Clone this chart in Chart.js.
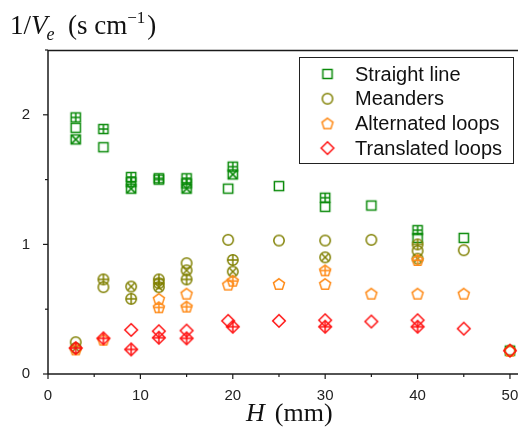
<!DOCTYPE html>
<html><head><meta charset="utf-8">
<script src="https://cdn.jsdelivr.net/npm/chart.js@4"></script>
<style>html,body{margin:0;padding:0;background:#fff}canvas{display:block}</style>
</head><body>
<canvas id="c" width="518" height="429" style="width:518px;height:429px"></canvas>
<script>
// ---- data (H in mm, 1/Ve in s/cm) ----
const seriesNames = ['Straight line','Meanders','Alternated loops','Translated loops'];
const xTickValues = [0,5,10,15,20,25,30,35,40,45,50];
const yTickValues = [0,0.5,1,1.5,2,2.5];

const straightPlainH = [3,6,19.5,25,30,35,40,45,50];
const straightPlainV = [1.90,1.75,1.43,1.45,1.29,1.30,1.05,1.05,0.18];
const straightPlusH  = [3,6,9,9,12,12,15,15,20,30,40];
const straightPlusV  = [1.98,1.89,1.52,1.48,1.51,1.50,1.51,1.47,1.60,1.36,1.11];
const straightXH     = [3,9,15,20];
const straightXV     = [1.81,1.43,1.43,1.54];

const meandersPlainH = [3,6,15,19.5,25,30,35,40,45,50];
const meandersPlainV = [0.245,0.67,0.855,1.035,1.03,1.03,1.035,0.95,0.955,0.18];
const meandersPlusH  = [6,9,12,12,15,20,40];
const meandersPlusV  = [0.73,0.58,0.73,0.70,0.73,0.88,1.0];
const meandersXH     = [3,9,12,15,20,30,40];
const meandersXV     = [0.20,0.675,0.67,0.80,0.79,0.90,0.89];

const alternatedPlainH = [3,6,12,15,19.5,25,30,35,40,45,50];
const alternatedPlainV = [0.19,0.265,0.58,0.62,0.69,0.695,0.695,0.62,0.62,0.62,0.18];
const alternatedPlusH  = [12,15,20,30,40];
const alternatedPlusV  = [0.515,0.52,0.72,0.80,0.88];

const translatedPlainH = [9,12,15,19.5,25,30,35,40,45,50];
const translatedPlainV = [0.34,0.33,0.335,0.41,0.41,0.415,0.405,0.415,0.35,0.18];
const translatedPlusH  = [3,6,9,12,15,20,30,40];
const translatedPlusV  = [0.20,0.275,0.19,0.28,0.275,0.365,0.365,0.365];

const colors = {green:'#0a8a0a', olive:'#808000', orange:'#ff8c1a', red:'#ff1010'};

// ---- marker images ----
function marker(shape, mark, color){
  const s = 18, m = s/2;
  const c = document.createElement('canvas'); c.width = s; c.height = s;
  const g = c.getContext('2d');
  g.strokeStyle = color; g.lineWidth = 1.5; g.lineJoin = 'miter';
  g.beginPath();
  if (shape === 'square') {
    const r = 4.6; g.rect(m-r, m-r, 2*r, 2*r); g.stroke();
    g.beginPath();
    if (mark === 'plus') { g.moveTo(m, m-r); g.lineTo(m, m+r); g.moveTo(m-r, m); g.lineTo(m+r, m); }
    if (mark === 'x') { g.moveTo(m-r, m-r); g.lineTo(m+r, m+r); g.moveTo(m+r, m-r); g.lineTo(m-r, m+r); }
    g.stroke();
  } else if (shape === 'circle') {
    const r = 5.2; g.arc(m, m, r, 0, Math.PI*2); g.stroke();
    g.beginPath();
    if (mark === 'plus') { g.moveTo(m, m-r); g.lineTo(m, m+r); g.moveTo(m-r, m); g.lineTo(m+r, m); }
    if (mark === 'x') { const d = r*0.707; g.moveTo(m-d, m-d); g.lineTo(m+d, m+d); g.moveTo(m+d, m-d); g.lineTo(m-d, m+d); }
    g.stroke();
  } else if (shape === 'diamond') {
    const r = 6.3; g.moveTo(m, m-r); g.lineTo(m+r, m); g.lineTo(m, m+r); g.lineTo(m-r, m); g.closePath(); g.stroke();
    g.beginPath();
    if (mark === 'plus') { g.moveTo(m, m-r); g.lineTo(m, m+r); g.moveTo(m-r, m); g.lineTo(m+r, m); }
    g.stroke();
  } else if (shape === 'pentagon') {
    const r = 5.8;
    for (let i = 0; i < 5; i++) {
      const a = -Math.PI/2 + i*2*Math.PI/5;
      const x = m + r*Math.cos(a), y = m + 0.6 + r*Math.sin(a);
      if (i === 0) g.moveTo(x, y); else g.lineTo(x, y);
    }
    g.closePath(); g.stroke();
    g.beginPath();
    if (mark === 'plus') {
      const yb = m + 0.6 + r*Math.sin(-Math.PI/2 + 2*2*Math.PI/5);
      g.moveTo(m, m + 0.6 - r); g.lineTo(m, yb);
      g.moveTo(m - r*0.95, m + 0.3); g.lineTo(m + r*0.95, m + 0.3);
    }
    g.stroke();
  }
  return c;
}

function pts(xs, ys){ return xs.map((x,i)=>({x:x, y:ys[i]})); }

function ds(label, xs, ys, shape, mark, color, order, legend){
  return {
    label: label, data: pts(xs, ys), pointStyle: marker(shape, mark, color),
    pointRadius: 5, pointHoverRadius: 5, showLine: false, order: order,
    borderColor: color, backgroundColor: color, _legend: legend
  };
}

const datasets = [
  ds(seriesNames[3], translatedPlainH, translatedPlainV, 'diamond', null, colors.red, 1, true),
  ds(seriesNames[3], translatedPlusH, translatedPlusV, 'diamond', 'plus', colors.red, 1, false),
  ds(seriesNames[2], alternatedPlainH, alternatedPlainV, 'pentagon', null, colors.orange, 2, true),
  ds(seriesNames[2], alternatedPlusH, alternatedPlusV, 'pentagon', 'plus', colors.orange, 2, false),
  ds(seriesNames[1], meandersPlainH, meandersPlainV, 'circle', null, colors.olive, 3, true),
  ds(seriesNames[1], meandersPlusH, meandersPlusV, 'circle', 'plus', colors.olive, 3, false),
  ds(seriesNames[1], meandersXH, meandersXV, 'circle', 'x', colors.olive, 3, false),
  ds(seriesNames[0], straightPlainH, straightPlainV, 'square', null, colors.green, 4, true),
  ds(seriesNames[0], straightPlusH, straightPlusV, 'square', 'plus', colors.green, 4, false),
  ds(seriesNames[0], straightXH, straightXV, 'square', 'x', colors.green, 4, false)
];

const axisColor = '#1a1a1a';

const decor = {
  id: 'decor',
  afterDraw(chart){
    const g = chart.ctx, a = chart.chartArea, xs = chart.scales.x, ys = chart.scales.y;
    g.save();
    g.strokeStyle = axisColor; g.lineWidth = 1.3;
    g.beginPath(); g.moveTo(a.left, a.top + 0.5); g.lineTo(a.right, a.top + 0.5); g.stroke();
    g.lineWidth = 1.5;
    g.beginPath(); g.moveTo(a.left, a.top); g.lineTo(a.left, a.bottom); g.stroke();
    g.beginPath(); g.moveTo(a.left, a.bottom); g.lineTo(a.right, a.bottom); g.stroke();
    g.lineWidth = 1.2;
    xTickValues.forEach(v => {
      const p = xs.getPixelForValue(v), L = (v % 10 === 0) ? 5 : 3;
      g.beginPath(); g.moveTo(p, a.bottom); g.lineTo(p, a.bottom + L); g.stroke();
    });
    yTickValues.forEach(v => {
      const p = ys.getPixelForValue(v), L = (Math.abs(v - Math.round(v)) < 1e-9) ? 5 : 3;
      g.beginPath(); g.moveTo(a.left, p); g.lineTo(a.left - L, p); g.stroke();
    });
    // legend
    const lx = 299, ly = 57, lw = 214, lh = 106;
    g.lineWidth = 1; g.strokeStyle = '#222';
    g.strokeRect(lx + 0.5, ly + 0.5, lw, lh);
    const rows = [74, 98.7, 123.4, 148.1];
    const legendSets = chart.data.datasets.filter(d => d._legend).reverse();
    g.font = '20px "Liberation Sans", Arial, sans-serif';
    g.fillStyle = '#111'; g.textBaseline = 'middle'; g.textAlign = 'left';
    legendSets.forEach((d, i) => {
      const img = d.pointStyle;
      g.drawImage(img, 327.5 - img.width/2, rows[i] - img.height/2);
      g.fillText(d.label, 355, rows[i] + 1);
    });
    // y axis title
    const serif = '"Liberation Serif", "Times New Roman", serif';
    let x = 10; const base = 34;
    g.fillStyle = '#111'; g.textBaseline = 'alphabetic';
    g.font = '27px ' + serif; g.fillText('1/', x, base); x += g.measureText('1/').width;
    g.font = 'italic 27px ' + serif; g.fillText('V', x, base); x += g.measureText('V').width - 1;
    g.font = 'italic 18px ' + serif; g.fillText('e', x, base + 6); x += g.measureText('e').width;
    x = 68;
    g.font = '27px ' + serif; g.fillText('(s cm', x, base); x += g.measureText('(s cm').width;
    g.font = '17px ' + serif; g.fillText('\u22121', x, base - 11); x += g.measureText('\u22121').width + 2;
    g.font = '27px ' + serif; g.fillText(')', x, base);
    // x axis title
    let hx = 246; const hb = 421;
    g.font = 'italic 26px ' + serif; g.fillText('H', hx, hb); hx += g.measureText('H').width + 10;
    g.font = '26px ' + serif; g.fillText('(mm)', hx, hb);
    g.restore();
  }
};

new Chart(document.getElementById('c'), {
  type: 'scatter',
  data: { datasets: datasets },
  options: {
    responsive: false, animation: false, devicePixelRatio: 1,
    layout: { autoPadding: false, padding: { top: 50, left: 0, right: 0, bottom: 0 } },
    plugins: { legend: { display: false }, tooltip: { enabled: false } },
    scales: {
      x: {
        type: 'linear', min: 0, max: 50.87,
        afterFit(s){ s.height = 55; s.paddingLeft = 0; s.paddingRight = 0; },
        afterBuildTicks(s){ s.ticks = xTickValues.map(v => ({value: v})); },
        grid: { display: false }, border: { display: false },
        ticks: { padding: 5, color: '#222', maxRotation: 0, autoSkip: false,
          font: { family: '"Liberation Sans", Arial, sans-serif', size: 15 },
          callback: v => (v % 10 === 0 ? String(v) : '') }
      },
      y: {
        type: 'linear', min: 0, max: 2.5,
        afterFit(s){ s.width = 48; s.paddingTop = 0; s.paddingBottom = 0; },
        afterBuildTicks(s){ s.ticks = yTickValues.map(v => ({value: v})); },
        grid: { display: false }, border: { display: false },
        ticks: { padding: 10, color: '#222', autoSkip: false,
          font: { family: '"Liberation Sans", Arial, sans-serif', size: 15 },
          callback: v => (Math.abs(v - Math.round(v)) < 1e-9 ? String(v) : '') }
      }
    }
  },
  plugins: [decor]
});
</script>
</body></html>
